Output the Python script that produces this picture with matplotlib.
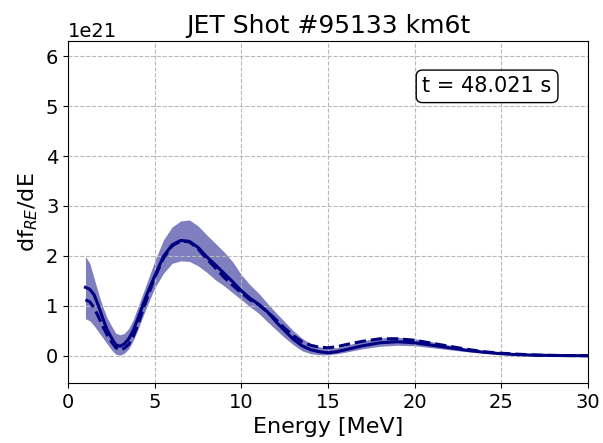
import numpy as np
import matplotlib
matplotlib.use('Agg')
import matplotlib.pyplot as plt

# Energia (MeV) e curvas (unidades de 1e21)
energia = [1, 1.25, 1.5, 1.75, 2, 2.25, 2.5, 2.75, 3, 3.25, 3.5, 3.75, 4, 4.5, 5, 5.5,
           6, 6.5, 7, 7.5, 8, 8.5, 9, 9.5, 10, 10.5, 11, 11.5, 12, 12.5, 13, 13.5, 14,
           14.5, 15, 15.5, 16, 17, 18, 19, 20, 21, 22, 23, 24, 25, 26, 27, 28, 29, 30]
solida = [1.37, 1.33, 1.22, 1.00, 0.75, 0.52, 0.36, 0.22, 0.19, 0.24, 0.34, 0.50, 0.72,
          1.19, 1.60, 1.99, 2.22, 2.31, 2.29, 2.17, 1.98, 1.82, 1.65, 1.48, 1.30, 1.15,
          1.03, 0.88, 0.68, 0.50, 0.33, 0.20, 0.12, 0.08, 0.06, 0.08, 0.12, 0.20, 0.26,
          0.28, 0.26, 0.21, 0.16, 0.11, 0.07, 0.04, 0.02, 0.01, 0.005, 0.002, 0.0]
tracejada = [1.12, 1.08, 0.96, 0.78, 0.59, 0.42, 0.28, 0.16, 0.12, 0.15, 0.23, 0.38, 0.60,
             1.10, 1.57, 1.95, 2.20, 2.30, 2.28, 2.14, 1.94, 1.76, 1.57, 1.41, 1.26, 1.12,
             1.02, 0.88, 0.72, 0.55, 0.40, 0.28, 0.21, 0.17, 0.16, 0.18, 0.22, 0.29, 0.34,
             0.34, 0.31, 0.25, 0.19, 0.13, 0.08, 0.05, 0.03, 0.015, 0.007, 0.003, 0.0]
banda_inf = [0.74, 0.70, 0.60, 0.48, 0.36, 0.24, 0.12, 0.03, 0.01, 0.05, 0.14, 0.30, 0.50,
             0.95, 1.36, 1.65, 1.85, 1.90, 1.89, 1.80, 1.67, 1.52, 1.40, 1.26, 1.12, 0.98,
             0.85, 0.68, 0.52, 0.36, 0.22, 0.10, 0.04, 0.02, 0.02, 0.04, 0.07, 0.14, 0.19,
             0.21, 0.20, 0.16, 0.12, 0.08, 0.05, 0.03, 0.015, 0.006, 0.002, 0.0, 0.0]
banda_sup = [1.99, 1.85, 1.55, 1.25, 0.98, 0.76, 0.60, 0.45, 0.42, 0.45, 0.55, 0.72, 0.95,
             1.42, 1.90, 2.32, 2.58, 2.70, 2.72, 2.60, 2.42, 2.25, 2.08, 1.88, 1.62, 1.42,
             1.25, 1.05, 0.86, 0.68, 0.50, 0.35, 0.24, 0.18, 0.15, 0.16, 0.20, 0.30, 0.36,
             0.37, 0.34, 0.28, 0.21, 0.14, 0.09, 0.05, 0.03, 0.015, 0.008, 0.004, 0.002]

escala = 1e21
E = np.array(energia)

fig = plt.figure(figsize=(6.03, 4.43), dpi=100)
ax = fig.add_axes([0.113, 0.135, 0.862, 0.772])

ax.fill_between(E, np.array(banda_inf) * escala, np.array(banda_sup) * escala,
                color='navy', alpha=0.5, linewidth=0)
ax.plot(E, np.array(solida) * escala, color='navy', linewidth=2.2)
ax.plot(E, np.array(tracejada) * escala, color='navy', linewidth=2.2, linestyle='--')

ax.set_xlim(0, 30)
ax.set_ylim(-0.55e21, 6.3e21)
ax.set_xticks([0, 5, 10, 15, 20, 25, 30])
ax.set_yticks(np.arange(0, 7) * escala)
ax.tick_params(labelsize=14)
ax.yaxis.get_offset_text().set_fontsize(14)
ax.grid(True, linestyle='--', color='#b8b8b8', linewidth=0.8)

ax.set_title('JET Shot #95133 km6t', fontsize=18)
ax.set_xlabel('Energy [MeV]', fontsize=16)
ax.set_ylabel('df$_{RE}$/dE', fontsize=16)

ax.text(0.806, 0.868, 't = 48.021 s', transform=ax.transAxes, fontsize=15,
        ha='center', va='center',
        bbox=dict(boxstyle='round,pad=0.3', facecolor='white', edgecolor='black'))

fig.savefig('out.png', dpi=100)
